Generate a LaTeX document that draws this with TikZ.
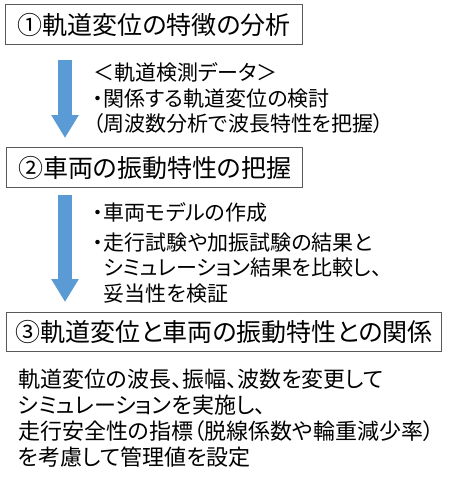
\documentclass[tikz,border=0pt]{standalone}
\usepackage{fontspec}
\setmainfont{Noto Sans CJK JP}[RawFeature={+palt}]
\usepackage{tikz}
\usetikzlibrary{arrows.meta, positioning}
\definecolor{frame}{RGB}{89,89,89}
\definecolor{flow}{RGB}{91,155,213}

\begin{document}
\begin{tikzpicture}[x=1pt, y=-1pt,
  titlebox/.style={draw=frame, line width=1.4pt, anchor=north west, inner sep=0pt,
                   minimum height=40pt, font=\fontsize{25}{30}\selectfont},
  note/.style={anchor=north west, inner sep=0pt, align=left,
               font=\fontsize{21}{25.5}\selectfont},
  flowarr/.style={flow, line width=14pt, -{Triangle[width=26pt, length=23pt]}}]
  \useasboundingbox (0,0) rectangle (451,482);
  \node[titlebox, minimum width=297pt] (step1) at (5,4) {①軌道変位の特徴の分析};
  \node[titlebox, minimum width=296pt] (step2) at (6,147) {②車両の振動特性の把握};
  \node[titlebox, minimum width=435pt, minimum height=39pt] (step3) at (6,312) {③軌道変位と車両の振動特性との関係};
  \node[note] (note1) at (93,62.5) {＜軌道検測データ＞\\・関係する軌道変位の検討\\（周波数分析で波長特性を把握）};
  \node[note] (note2) at (93,202.5) {・車両モデルの作成\\[4pt]・走行試験や加振試験の結果と\\\hphantom{・}シミュレーション結果を比較し、\\\hphantom{・}妥当性を検証};
  \node[note, font=\fontsize{22}{26}\selectfont] (note3) at (18,369) {軌道変位の波長、振幅、波数を変更して\\シミュレーションを実施し、\\走行安全性の指標（脱線係数や輪重減少率）\\を考慮して管理値を設定};
  \coordinate (a1top) at (65,60);
  \coordinate (a1tip) at (65,138);
  \coordinate (a2top) at (65,195);
  \coordinate (a2tip) at (65,302);
  \draw[flowarr] (a1top) -- (a1tip);
  \draw[flowarr] (a2top) -- (a2tip);
\end{tikzpicture}
\end{document}
